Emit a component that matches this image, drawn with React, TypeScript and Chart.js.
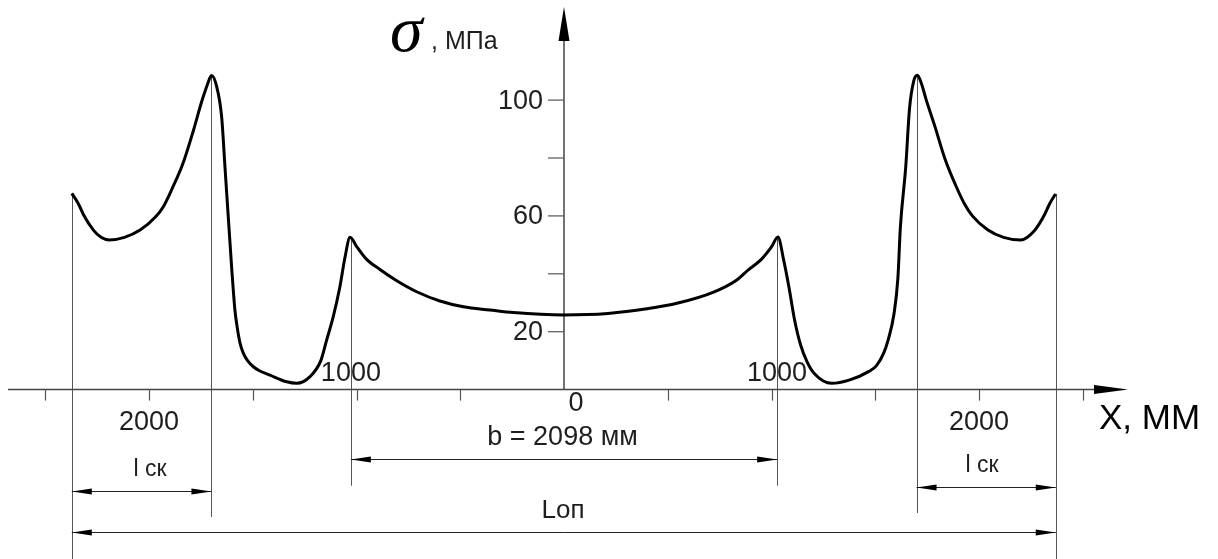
import React, { useEffect, useRef } from "react";
import { Chart, registerables } from "chart.js";

Chart.register(...registerables);

// Stress curve: x position (mm) and sigma (MPa)
const xMm = [
  -2372, -2341, -2315, -2268, -2231, -2193, -2118, -2043, -1968, -1931, -1888, -1837, -1786, -1746, -1718,
  -1699, -1675, -1650, -1634, -1618, -1602, -1586, -1575, -1561, -1545, -1525, -1497, -1470, -1417, -1336,
  -1288, -1224, -1172, -1144, -1112, -1080, -1055, -1031, -999, -951, -887, -806, -710, -598, -485, -357,
  -244, 0,
  212, 400, 549, 718, 831, 887, 951, 999, 1031, 1058, 1085, 1110, 1140, 1172, 1206, 1290, 1374, 1470, 1506,
  1540, 1562, 1590, 1609, 1621, 1647, 1665, 1685, 1703, 1722, 1746, 1787, 1837, 1888, 1931, 1968, 2043, 2118,
  2200, 2268, 2315, 2341, 2369,
];
const sigmaMpa = [
  67.8, 64.3, 60.3, 55.1, 52.6, 51.7, 52.6, 55.1, 59.7, 63.2, 69.5, 78, 89.5, 99.5, 105.5,
  108.5, 105, 94.3, 77, 59.7, 42.5, 27.5, 21.5, 16, 12.5, 10, 7.9, 6.6, 5, 2.7,
  2.2, 4.5, 10, 17.1, 25.2, 35.5, 45.9, 52.6, 49.4, 45.0, 41.5, 37.6, 33.8, 30.6, 28.6, 27.5,
  26.6, 25.8,
  26.3, 27.9, 29.9, 33.6, 37.8, 41.3, 45.0, 49.2, 52.7, 45, 35, 24.5, 15.5, 9.5, 5.6, 2.2, 3.3, 6.3, 8.3,
  12.5, 17.1, 26, 38.4, 56, 77, 97, 106.5, 108.6, 105.8, 100, 91, 79.5, 70.5, 64, 60, 55.1, 52.6,
  51.7, 55, 60.3, 64.3, 67.6,
];

// Axis ticks and labels
const yTicks = [20, 40, 60, 80, 100];
const yTickLabels = [20, 60, 100];
const xTicks = [-2500, -2000, -1500, -1000, -500, 500, 1000, 1500, 2000, 2500];
const xBelowLabels = [-2000, 0, 2000];
const xBelowLabelText = ["2000", "0", "2000"];
const xAboveLabels = [-1027, 1027];
const xAboveLabelText = ["1000", "1000"];

// Extension lines (x mm) and their lower ends (MPa units)
const extX = [-2372, -1699, -1027, 1027, 1699, 2370];
const extTopY = [67.8, 108.5, 52.6, 52.7, 108.6, 67.6];
const extBottomY = [-58.5, -44, -33.2, -33.2, -42.6, -58.5];

// Dimension lines: from, to, level, label
const dimFrom = [-2372, 1699, -1027, -2372];
const dimTo = [-1699, 2370, 1027, 2370];
const dimLevel = [-34.9, -33.7, -24.0, -49.2];
const dimLabel = ["l ск", "l ск", "b = 2098 мм", "Lоп"];
const dimLabelX = [-1995, 2015, -7, -5];

const X_MIN = -2718.1;
const X_MAX = 3151.8;
const Y_MIN = -58.51;
const Y_MAX = 134.58;

const SANS = "'Liberation Sans', Arial, sans-serif";

function arrowHead(ctx: CanvasRenderingContext2D, x: number, y: number, dir: number, len: number, hw: number) {
  ctx.beginPath();
  ctx.moveTo(x, y);
  ctx.lineTo(x - dir * len, y - hw);
  ctx.lineTo(x - dir * len, y + hw);
  ctx.closePath();
  ctx.fill();
}

const drawingPlugin = {
  id: "drawing",
  beforeDatasetsDraw(chart: any) {
    const ctx: CanvasRenderingContext2D = chart.ctx;
    const xs = chart.scales.x;
    const ys = chart.scales.y;
    const X = (v: number) => xs.getPixelForValue(v);
    const Y = (v: number) => ys.getPixelForValue(v);
    const ax = X(0);
    const ay = Y(0);
    ctx.save();

    // extension lines
    ctx.strokeStyle = "#555";
    ctx.lineWidth = 1;
    extX.forEach((v, i) => {
      const px = Math.round(X(v)) + 0.5;
      ctx.beginPath();
      ctx.moveTo(px, Y(extTopY[i]));
      ctx.lineTo(px, Y(extBottomY[i]));
      ctx.stroke();
    });

    // axes
    ctx.strokeStyle = "#444";
    ctx.lineWidth = 1.5;
    ctx.beginPath();
    ctx.moveTo(8, ay);
    ctx.lineTo(1100, ay);
    ctx.stroke();
    ctx.beginPath();
    ctx.moveTo(ax, ay);
    ctx.lineTo(ax, 38);
    ctx.stroke();
    ctx.fillStyle = "#000";
    arrowHead(ctx, 1128, ay, 1, 34, 4.5);
    ctx.beginPath();
    ctx.moveTo(ax, 7);
    ctx.lineTo(ax - 5.5, 41);
    ctx.lineTo(ax + 5.5, 41);
    ctx.closePath();
    ctx.fill();

    // y ticks
    ctx.strokeStyle = "#555";
    ctx.lineWidth = 1.2;
    yTicks.forEach((v) => {
      ctx.beginPath();
      ctx.moveTo(ax - 16, Y(v));
      ctx.lineTo(ax, Y(v));
      ctx.stroke();
    });
    // x ticks
    xTicks.forEach((v) => {
      const px = Math.round(X(v)) + 0.5;
      ctx.beginPath();
      ctx.moveTo(px, ay);
      ctx.lineTo(px, ay + 11);
      ctx.stroke();
    });

    // labels
    ctx.fillStyle = "#1e1e1e";
    ctx.font = `27px ${SANS}`;
    ctx.textAlign = "right";
    ctx.textBaseline = "middle";
    yTickLabels.forEach((v) => ctx.fillText(String(v), ax - 21, Y(v) + 1));
    ctx.textAlign = "center";
    xBelowLabels.forEach((v, i) => {
      const isZero = v === 0;
      ctx.fillText(xBelowLabelText[i], X(v) + (isZero ? 12 : 0), ay + (isZero ? 14 : 33));
    });
    xAboveLabels.forEach((v, i) => ctx.fillText(xAboveLabelText[i], X(v), ay - 16));

    // dimension lines
    ctx.strokeStyle = "#222";
    ctx.fillStyle = "#000";
    ctx.lineWidth = 1;
    dimFrom.forEach((v, i) => {
      const x1 = X(v);
      const x2 = X(dimTo[i]);
      const py = Math.round(Y(dimLevel[i])) + 0.5;
      ctx.beginPath();
      ctx.moveTo(x1, py);
      ctx.lineTo(x2, py);
      ctx.stroke();
      arrowHead(ctx, x1, py, -1, 20, 3);
      arrowHead(ctx, x2, py, 1, 20, 3);
      ctx.fillStyle = "#1e1e1e";
      ctx.font = i === 2 ? `27px ${SANS}` : i === 3 ? `26px ${SANS}` : `23px ${SANS}`;
      ctx.textAlign = "center";
      ctx.textBaseline = "middle";
      ctx.fillText(dimLabel[i], X(dimLabelX[i]), py - 22);
      ctx.fillStyle = "#000";
    });

    // axis titles
    ctx.fillStyle = "#000";
    ctx.textAlign = "left";
    ctx.textBaseline = "alphabetic";
    ctx.font = `italic 66px 'Liberation Serif', serif`;
    ctx.fillText("σ", 390, 51);
    ctx.fillStyle = "#1e1e1e";
    ctx.font = `25px ${SANS}`;
    ctx.fillText(", МПа", 431, 49);
    ctx.fillStyle = "#000";
    ctx.font = `35px ${SANS}`;
    ctx.textBaseline = "middle";
    ctx.fillText("X, ММ", 1099, 419);
    ctx.restore();
  },
};

export default function App() {
  const ref = useRef<HTMLCanvasElement | null>(null);
  useEffect(() => {
    if (!ref.current) return;
    const chart = new Chart(ref.current, {
      type: "line",
      data: {
        datasets: [
          {
            data: xMm.map((x, i) => ({ x, y: sigmaMpa[i] })),
            borderColor: "#000",
            borderWidth: 3,
            pointRadius: 0,
            cubicInterpolationMode: "monotone",
            fill: false,
          },
        ],
      },
      options: {
        animation: false,
        responsive: false,
        devicePixelRatio: 1,
        layout: { padding: 0 },
        plugins: { legend: { display: false }, tooltip: { enabled: false } },
        scales: {
          x: { type: "linear", min: X_MIN, max: X_MAX, display: false },
          y: { type: "linear", min: Y_MIN, max: Y_MAX, display: false },
        },
      },
      plugins: [drawingPlugin],
    });
    return () => chart.destroy();
  }, []);
  return (
    <div style={{ position: "fixed", left: 0, top: 0, width: 1218, height: 559, background: "#fff" }}>
      <canvas ref={ref} width={1218} height={559} />
    </div>
  );
}
